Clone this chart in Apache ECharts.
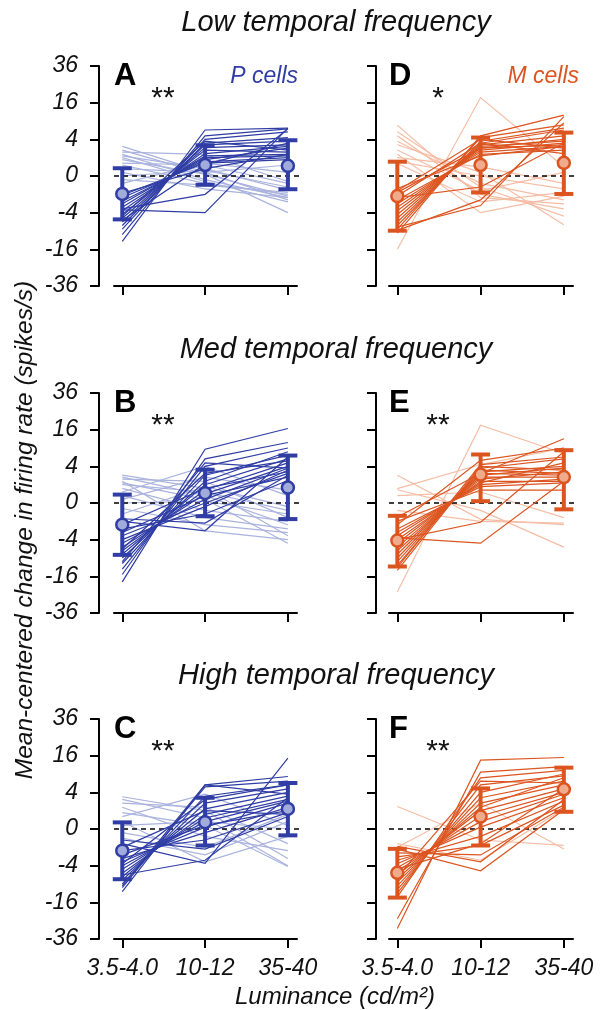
<!DOCTYPE html>
<html><head><meta charset="utf-8">
<script src="https://cdn.jsdelivr.net/npm/echarts@6/dist/echarts.min.js"></script>
<style>html,body{margin:0;padding:0;background:#fff}#c{width:602px;height:1010px}</style>
</head><body><div id="c"></div>
<script>
// ---------- DATA (spikes/s, mean-centered) ----------
const categories = ['3.5-4.0', '10-12', '35-40'];
const yTickLabels = [-36, -16, -4, 0, 4, 16, 36];
const rowTitles = ['Low temporal frequency', 'Med temporal frequency', 'High temporal frequency'];
const yAxisName = 'Mean-centered change in firing rate (spikes/s)';
const xAxisName = 'Luminance (cd/m²)';

// Panel A: P cells, low TF
const A_dark = [[-12.7,6.3,6.8],[-10.2,4.8,6.6],[-8.4,4.0,5.8],[-7.3,3.2,4.4],[-6.3,2.9,3.6],[-5.3,2.4,2.9],[-4.4,2.0,1.7],[-3.6,1.5,2.6],[-2.9,1.2,1.4],[-2.3,1.0,1.2],[-1.9,0.8,2.3],[-1.4,0.6,1.0],[-1.1,0.5,0.8],[-0.9,0.16,1.4],[-3.2,-1.0,6.6],[-3.4,-4.0,6.8],[-4.8,3.6,2.0],[-5.8,0.4,3.2]];
const A_light = [[2.6,0.04,-1.7],[2.0,0.01,-1.2],[1.4,-0.04,-1.4],[1.2,0.16,-0.6],[1.0,-0.09,-2.0],[0.8,0.01,-4.0],[0.5,0.36,-0.16],[0.36,-0.16,-1.0],[0.16,0.04,0.36],[0.04,-0.5,-1.4],[0,0.09,-0.36],[-0.04,-0.25,-0.8],[-0.16,0.5,0.04],[1.7,1.4,-0.09]];
const A_mean = [-0.96, 0.36, 0.31];
const A_lo = [-5.6, -0.23, -0.52];
const A_hi = [0.18, 2.8, 3.8];

// Panel B: P cells, med TF
const B_dark = [[-18.5,8.6,16.5],[-15.2,5.8,10.9],[-13.0,4.0,9.0],[-10.9,2.3,6.8],[-9.0,1.4,7.8],[-7.8,1.0,5.8],[-6.8,0.5,4.8],[-5.8,0.25,4.0],[-4.8,0.04,3.6],[-4.0,-0.04,3.2],[-3.2,0,2.6],[-2.6,0.16,2.0],[-2.0,-0.36,1.5],[-1.4,0.64,2.9],[-1.0,-2.3,6.3],[-0.74,-1.2,2.3],[-10.2,4.8,3.6],[-6.3,2.6,5.3]];
const B_light = [[2.3,0.64,-3.2],[2.0,0.16,-1.4],[1.7,1.4,-0.64],[1.2,0.04,-4.8],[1.0,0.36,-0.16],[0.64,-0.16,-1.0],[0.36,4.0,0.16],[0.16,-0.64,-2.0],[0.04,2.0,0.5],[0,0.01,-0.36],[-0.09,-1.4,-2.6],[-0.36,0.8,-0.04],[1.4,-2.3,-4.0]];
const B_mean = [-1.4, 0.29, 0.71];
const B_lo = [-8.0, -0.52, -0.77];
const B_hi = [0.21, 3.3, 6.7];

// Panel C: P cells, high TF
const C_dark = [[-11.7,5.8,8.2],[-10.2,5.3,6.8],[-9.0,3.2,5.8],[-7.8,2.0,4.8],[-6.8,1.2,4.0],[-5.8,0.64,3.2],[-4.8,0.36,2.6],[-4.0,0.16,2.3],[-3.2,0.01,2.0],[-2.6,-0.04,1.4],[-2.0,0.04,1.0],[-1.4,-0.36,0.8],[-1.0,1.0,0.64],[-0.64,-3.5,14.9],[-0.36,-1.2,0.46],[-9.6,5.8,3.6],[-6.3,-2.9,2.9],[-3.6,2.6,5.8]];
const C_light = [[3.1,1.0,-2.6],[2.6,0.36,-4.0],[2.0,1.4,-0.64],[1.4,-0.16,-1.4],[0.46,3.6,0.04],[0.16,-3.2,-0.16],[0.04,0.16,0],[-0.04,-1.0,0.64],[0.8,0.04,-4.2],[-0.25,-2.0,0.16]];
const C_mean = [-1.4, 0.14, 1.2];
const C_lo = [-7.5, -0.81, -0.12];
const C_hi = [0.13, 2.9, 6.3];

// Panel D: M cells, low TF
const D_dark = [[-9.7,4.8,11.0],[-8.4,4.4,7.8],[-7.3,3.6,6.8],[-6.3,3.2,6.3],[-5.3,2.9,4.8],[-4.4,2.6,3.6],[-3.6,2.3,2.9],[-2.9,2.0,3.2],[-2.3,1.7,2.6],[-1.7,1.4,2.0],[-1.2,3.2,1.5],[-0.8,2.3,4.0],[-0.64,4.0,2.3],[-0.46,1.2,2.6],[-7.8,-2.6,10.5],[-1.4,-0.36,3.2],[-8.8,-1.7,8.4]];
const D_light = [[7.7,-1.4,-2.3],[5.8,-0.36,-4.8],[4.8,-1.0,-3.2],[3.6,-0.16,-1.7],[2.9,0.04,-7.1],[2.0,-0.64,0.04],[1.0,0.25,-0.16],[0.46,-2.0,-0.8],[-16.0,18.3,0.25],[1.4,-4.0,-1.2],[0.64,0,-0.5]];
const D_mean = [-1.2, 0.36, 0.52];
const D_lo = [-8.9, -0.81, -0.96];
const D_hi = [0.61, 4.4, 5.6];

// Panel E: M cells, med TF
const E_dark = [[-13.5,4.0,3.2],[-11.6,3.6,5.8],[-10.2,3.2,2.6],[-9.0,2.9,4.0],[-7.8,2.6,2.3],[-6.8,2.3,3.6],[-5.8,2.0,2.0],[-4.8,1.7,2.9],[-4.0,1.4,1.4],[-3.2,1.2,4.8],[-2.6,1.0,1.7],[-2.0,0.8,1.2],[-1.4,5.4,9.0],[-1.0,0.5,0.5],[-0.58,2.6,12.3],[-4.0,-1.1,7.8],[-3.6,-4.8,1.4],[-12.3,4.4,6.3]];
const E_light = [[2.3,-0.8,-1.4],[0.61,4.4,9.0],[0.52,-0.16,-5.8],[-0.16,-1.0,-1.2],[-23.6,18.0,7.3],[0.16,0.36,-0.64]];
const E_mean = [-4.2, 2.4, 2.0];
const E_lo = [-12.0, 0.01, -0.12];
const E_hi = [-0.49, 7.0, 8.3];

// Panel F: M cells, high TF
const F_dark = [[-29.4,14.1,15.2],[-24.0,9.6,11.6],[-13.7,7.8,10.2],[-12.3,5.8,8.4],[-10.9,4.0,9.0],[-9.6,2.9,6.8],[-8.4,2.0,5.8],[-7.3,1.4,7.8],[-6.3,1.0,4.8],[-5.3,0.5,4.0],[-4.4,0.16,3.6],[-3.6,0.01,2.9],[-2.9,-0.16,2.3],[-2.3,-0.8,1.7],[-1.7,-2.0,1.4],[-1.2,-5.2,1.1],[-0.9,-3.2,2.6],[-6.8,6.8,6.3],[-4.8,-0.64,4.8]];
const F_light = [[1.5,-0.36,-0.8],[-1.0,2.0,-1.2],[-0.64,-2.9,1.2]];
const F_mean = [-5.7, 0.46, 4.7];
const F_lo = [-14.0, -0.81, 0.88];
const F_hi = [-1.17, 4.9, 11.2];

// ---------- STYLE ----------
const FONT = '"Liberation Sans", Arial, Helvetica, sans-serif';
const P_COL = {dark:'#2F3DA4', light:'#AAB3DE', fill:'#A2ACDC'};
const M_COL = {dark:'#DC5520', light:'#F5BDA5', fill:'#F0AA8C'};

const panels = [
  {letter:'A', col:0, row:0, dark:A_dark, light:A_light, mean:A_mean, lo:A_lo, hi:A_hi, sig:'**', c:P_COL, cells:'P cells'},
  {letter:'B', col:0, row:1, dark:B_dark, light:B_light, mean:B_mean, lo:B_lo, hi:B_hi, sig:'**', c:P_COL},
  {letter:'C', col:0, row:2, dark:C_dark, light:C_light, mean:C_mean, lo:C_lo, hi:C_hi, sig:'**', c:P_COL},
  {letter:'D', col:1, row:0, dark:D_dark, light:D_light, mean:D_mean, lo:D_lo, hi:D_hi, sig:'*', c:M_COL, cells:'M cells'},
  {letter:'E', col:1, row:1, dark:E_dark, light:E_light, mean:E_mean, lo:E_lo, hi:E_hi, sig:'**', c:M_COL},
  {letter:'F', col:1, row:2, dark:F_dark, light:F_light, mean:F_mean, lo:F_lo, hi:F_hi, sig:'**', c:M_COL}
];

// signed square-root scale (axis runs in sqrt units; labels show spikes/s)
const tf = v => Math.sign(v) * Math.sqrt(Math.abs(v));

const colLeft = [114, 389], colWidth = [183, 184], colOffset = [15, 13];
const rowTop = [66, 393, 719], gridH = 220;
const X_MIN = -0.1, X_MAX = 2.11, ZERO_END = 2.2;

const grid = [], xAxis = [], yAxis = [], series = [], graphic = [];

panels.forEach((p, i) => {
  grid.push({left: colLeft[p.col], top: rowTop[p.row], width: colWidth[p.col], height: gridH});
  xAxis.push({
    type:'value', gridIndex:i, min:X_MIN, max:X_MAX, position:'bottom',
    axisLine:{show:true, onZero:false, lineStyle:{color:'#000', width:2}},
    axisTick:{show:true, length:9, lineStyle:{color:'#000', width:2}, customValues:[0,1,2]},
    axisLabel:{show:p.row===2, customValues:[0,1,2], formatter:v => categories[Math.round(v)],
      fontSize:23, fontStyle:'italic', color:'#111', fontFamily:FONT, margin:18},
    splitLine:{show:false}
  });
  yAxis.push({
    type:'value', gridIndex:i, min:-6, max:6, interval:2, offset:colOffset[p.col], position:'left',
    axisLine:{show:true, onZero:false, lineStyle:{color:'#000', width:2}},
    axisTick:{show:true, length:9, lineStyle:{color:'#000', width:2}},
    axisLabel:{show:p.col===0, fontSize:23, fontStyle:'italic', color:'#111', fontFamily:FONT, margin:21,
      formatter:v => { const r = Math.round(Math.sign(v)*v*v); return yTickLabels.includes(r) ? String(r) : ''; }},
    splitLine:{show:false}
  });
  // light (non-increasing) cells
  series.push({type:'lines', coordinateSystem:'cartesian2d', xAxisIndex:i, yAxisIndex:i, polyline:true, silent:true,
    lineStyle:{color:p.c.light, width:1.2, opacity:1}, z:2,
    data:p.light.map(r => ({coords:r.map((v,j) => [j, tf(v)])}))});
  // zero reference line
  series.push({type:'line', xAxisIndex:i, yAxisIndex:i, clip:false, symbol:'none', silent:true, z:3,
    lineStyle:{color:'#000', width:1.3, type:[5,4]}, data:[[X_MIN,0],[ZERO_END,0]]});
  // dark (increasing) cells
  series.push({type:'lines', coordinateSystem:'cartesian2d', xAxisIndex:i, yAxisIndex:i, polyline:true, silent:true,
    lineStyle:{color:p.c.dark, width:1.2, opacity:1}, z:4,
    data:p.dark.map(r => ({coords:r.map((v,j) => [j, tf(v)])}))});
  // error bars
  const dark = p.c.dark;
  series.push({type:'custom', xAxisIndex:i, yAxisIndex:i, z:5, silent:true,
    data:p.mean.map((m,j) => [j, tf(p.lo[j]), tf(p.hi[j])]),
    encode:{x:0, y:[1,2]},
    renderItem:(params, api) => {
      const x = api.value(0);
      const a = api.coord([x, api.value(1)]), b = api.coord([x, api.value(2)]);
      const w = 9.5, st = {stroke:dark, lineWidth:4};
      return {type:'group', children:[
        {type:'line', shape:{x1:a[0], y1:a[1], x2:b[0], y2:b[1]}, style:st},
        {type:'line', shape:{x1:a[0]-w, y1:a[1], x2:a[0]+w, y2:a[1]}, style:st},
        {type:'line', shape:{x1:b[0]-w, y1:b[1], x2:b[0]+w, y2:b[1]}, style:st}
      ]};
    }});
  // means
  series.push({type:'scatter', xAxisIndex:i, yAxisIndex:i, z:6, silent:true, symbol:'circle', symbolSize:12,
    itemStyle:{color:p.c.fill, borderColor:dark, borderWidth:2.5, opacity:1},
    data:p.mean.map((m,j) => [j, tf(m)])});

  const gx = colLeft[p.col], gy = rowTop[p.row];
  graphic.push({type:'text', left:gx, top:gy-5, style:{text:p.letter, font:'bold 31px '+FONT, fill:'#000'}});
  graphic.push({type:'text', x:gx+49, y:gy+33, style:{text:p.sig, font:'30px '+FONT, fill:'#111', align:'center', verticalAlign:'middle'}});
  if (p.cells) {
    graphic.push({type:'text', x:gx+colWidth[p.col]+(p.col===0?1:6), y:gy+11, style:{text:p.cells, font:'italic 23px '+FONT, fill:dark, align:'right', verticalAlign:'middle'}});
  }
});

rowTitles.forEach((t, r) => {
  graphic.push({type:'text', x:336, y:rowTop[r]-43, style:{text:t, font:'italic 29px '+FONT, fill:'#111', align:'center', verticalAlign:'middle'}});
});
graphic.push({type:'text', x:25, y:530, rotation:Math.PI/2, style:{text:yAxisName, font:'italic 24.5px '+FONT, fill:'#111', align:'center', verticalAlign:'middle'}});
graphic.push({type:'text', x:335, y:997, style:{text:xAxisName, font:'italic 24px '+FONT, fill:'#111', align:'center', verticalAlign:'middle'}});

const chart = echarts.init(document.getElementById('c'), null, {renderer:'canvas'});
chart.setOption({animation:false, backgroundColor:'#fff', grid, xAxis, yAxis, series, graphic});
</script></body></html>
